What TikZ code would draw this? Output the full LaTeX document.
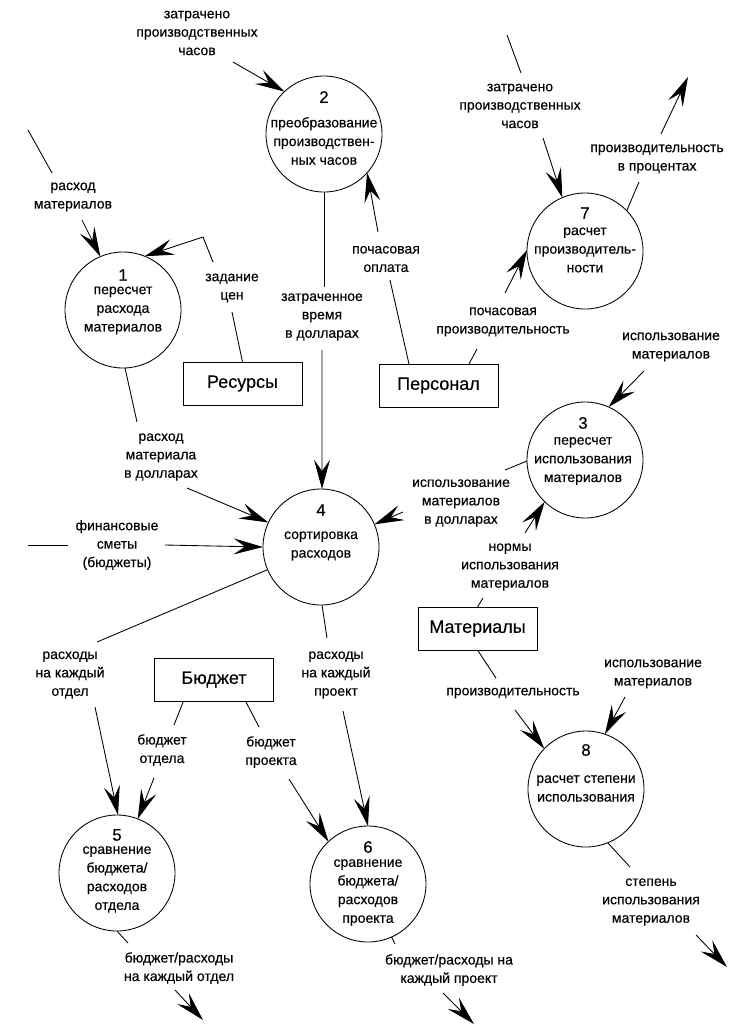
\documentclass[tikz,border=0pt]{standalone}
\usepackage{fontspec}
\setmainfont{Liberation Sans}[FakeBold=0.3]
\usetikzlibrary{arrows.meta,calc}
\begin{document}
\begin{tikzpicture}[x=0.75pt,y=-0.75pt,
  line width=0.65pt,
  proc/.style={draw,circle,minimum size=87pt,inner sep=0pt,outer sep=0pt},
  store/.style={draw,rectangle,minimum width=89.25pt,minimum height=32.25pt,inner sep=0pt,outer sep=0pt,font=\fontsize{13.5}{16}\selectfont},
  lbl/.style={align=center,inner sep=0pt,font=\fontsize{10.5}{13.8}\selectfont},
  ptxt/.style={align=center,inner sep=0pt,font=\fontsize{10.5}{14}\selectfont},
  pnum/.style={inner sep=0pt,font=\fontsize{12.5}{14}\selectfont},
  arr/.style={-{Stealth[length=22pt,width=12pt,inset=8.5pt]}},
]
\useasboundingbox (0,0) rectangle (746,1026);

% processes
\node[proc] (c1) at (123,310) {};
\node[proc] (c2) at (324,134) {};
\node[proc] (c3) at (585,460) {};
\node[proc] (c4) at (321,547) {};
\node[proc] (c5) at (117,873) {};
\node[proc] (c6) at (368,884) {};
\node[proc] (c7) at (585,251) {};
\node[proc] (c8) at (586,789) {};

\node[pnum] (n1) at (123,275) {1};
\node[ptxt] (t1) at (123,310.5) {пересчет\\расхода\\материалов};
\node[pnum] (n2) at (324,97) {2};
\node[ptxt] (t2) at (324,141) {преобразование\\производствен-\\ных часов};
\node[pnum] (n3) at (583,423) {3};
\node[ptxt] (t3) at (583,461) {пересчет\\использования\\материалов};
\node[pnum] (n4) at (321,510) {4};
\node[ptxt] (t4) at (321,546) {сортировка\\расходов};
\node[pnum] (n5) at (117,835) {5};
\node[ptxt] (t5) at (117,879.5) {сравнение\\бюджета/\\расходов\\отдела};
\node[pnum] (n6) at (368,847) {6};
\node[ptxt] (t6) at (368,892.5) {сравнение\\бюджета/\\расходов\\проекта};
\node[pnum] (n7) at (585,213) {7};
\node[ptxt] (t7) at (585,250) {расчет\\производитель-\\ности};
\node[pnum] (n8) at (586,750) {8};
\node[ptxt] (t8) at (586,788.5) {расчет степени\\использования};

% stores
\node[store] (Res) at (242.5,383.5) {Ресурсы};
\node[store] (Pers) at (438.5,385.5) {Персонал};
\node[store] (Mat) at (477.5,628.5) {Материалы};
\node[store] (Bud) at (214,679.5) {Бюджет};

% labels
\node[lbl] (L1) at (197,33) {затрачено\\производственных\\часов};
\node[lbl] (L2) at (73,197) {расход\\материалов};
\node[lbl] (L3) at (232,288) {задание\\цен};
\node[lbl] (L4) at (322,317) {затраченное\\время\\в долларах};
\node[lbl] (L5) at (386,259) {почасовая\\оплата};
\node[lbl] (L6) at (520,106) {затрачено\\производственных\\часов};
\node[lbl] (L7) at (657,159) {производительность\\в процентах};
\node[lbl] (L8) at (503,322) {почасовая\\производительность};
\node[lbl] (L9) at (671,347) {использование\\материалов};
\node[lbl] (L10) at (161,457) {расход\\материала\\в долларах};
\node[lbl] (L11) at (117,545) {финансовые\\сметы\\(бюджеты)};
\node[lbl] (L12) at (461,503) {использование\\материалов\\в долларах};
\node[lbl] (L13) at (510,567) {нормы\\использования\\материалов};
\node[lbl] (L14) at (513,693) {производительность};
\node[lbl] (L15) at (653,674) {использование\\материалов};
\node[lbl] (L16) at (651,902) {степень\\использования\\материалов};
\node[lbl] (L17) at (70,675) {расходы\\на каждый\\отдел};
\node[lbl] (L18) at (336,675) {расходы\\на каждый\\проект};
\node[lbl] (L19) at (162,750) {бюджет\\отдела};
\node[lbl] (L20) at (271,752) {бюджет\\проекта};
\node[lbl] (L21) at (179,968) {бюджет/расходы\\на каждый отдел};
\node[lbl] (L22) at (449,970) {бюджет/расходы на\\каждый проект};

% break points
\coordinate (e1) at (233,62);
\coordinate (s2a) at (28,130); \coordinate (s2b) at (52,173); \coordinate (e2) at (82,220);
\coordinate (s3) at (232,312); \coordinate (e3) at (213,262); \coordinate (k3) at (203,237);
\coordinate (s4) at (324,287); \coordinate (e4) at (322,350);
\coordinate (s5) at (390,280); \coordinate (e5) at (378,232);
\coordinate (s6a) at (507,35); \coordinate (s6b) at (521,73); \coordinate (e6) at (543,138);
\coordinate (s7) at (639,182); \coordinate (e7) at (661,134); \coordinate (t7) at (688,77);
\coordinate (s8) at (477,349); \coordinate (e8) at (505,293);
\coordinate (e9) at (644,371);
\coordinate (s10) at (137,422); \coordinate (e10) at (187,488);
\coordinate (s11a) at (28,545); \coordinate (s11b) at (68,545); \coordinate (e11) at (165,545);
\coordinate (s12) at (505,470); \coordinate (e12) at (403,512);
\coordinate (s13) at (483,598); \coordinate (e13) at (525,533);
\coordinate (s14) at (496,678); \coordinate (e14) at (515,710);
\coordinate (e15) at (625,697);
\coordinate (s16) at (630,867); \coordinate (e16) at (696,935); \coordinate (t16) at (727,967);
\coordinate (s17) at (97,642); \coordinate (e17) at (95,707);
\coordinate (s18) at (327,638); \coordinate (e18) at (343,711);
\coordinate (s19) at (174,725); \coordinate (e19) at (154,778);
\coordinate (s20) at (259,727); \coordinate (e20) at (289,779);
\coordinate (s21) at (128,943); \coordinate (e21) at (175,990); \coordinate (t21) at (203,1020);
\coordinate (s22) at (395,944); \coordinate (e22) at (443,993); \coordinate (t22) at (474,1024);

% connectors
\draw[arr] (e1) -- (c2.133);
\draw (s2a) -- (s2b);
\draw[arr] (e2) -- (c1.113);
\draw (Res.north) -- (s3);
\draw[arr] (e3) -- (k3) -- (c1.68);
\draw (c2.270) -- (s4);
\draw[arr] (e4) -- (c4.89);
\draw ($(Pers.north west)+(30,0)$) -- (s5);
\draw[arr] (e5) -- (c2.318);
\draw (s6a) -- (s6b);
\draw[arr] (e6) -- (c7.113);
\draw (c7.44) -- (s7);
\draw[arr] (e7) -- (t7);
\draw ($(Pers.north west)+(90,0)$) -- (s8);
\draw[arr] (e8) -- (c7.179);
\draw[arr] (e9) -- (c3.66);
\draw (c1.272) -- (s10);
\draw[arr] (e10) -- (c4.155);
\draw (s11a) -- (s11b);
\draw[arr] (e11) -- (c4.180);
\draw (c3.181) -- (s12);
\draw[arr] (e12) -- (c4.23);
\draw (Mat.north) -- (s13);
\draw[arr] (e13) -- (c3.226);
\draw (Mat.south) -- (s14);
\draw[arr] (e14) -- (c8.136);
\draw[arr] (e15) -- (c8.71);
\draw (c8.292) -- (s16);
\draw[arr] (e16) -- (t16);
\draw (c4.203) -- (s17);
\draw[arr] (e17) -- (c5.89);
\draw (c4.271) -- (s18);
\draw[arr] (e18) -- (c6.90);
\draw ($(Bud.south west)+(29,0)$) -- (s19);
\draw[arr] (e19) -- (c5.69);
\draw ($(Bud.south west)+(91,0)$) -- (s20);
\draw[arr] (e20) -- (c6.133);
\draw (c5.270) -- (s21);
\draw[arr] (e21) -- (t21);
\draw (c6.294) -- (s22);
\draw[arr] (e22) -- (t22);
\end{tikzpicture}
\end{document}
